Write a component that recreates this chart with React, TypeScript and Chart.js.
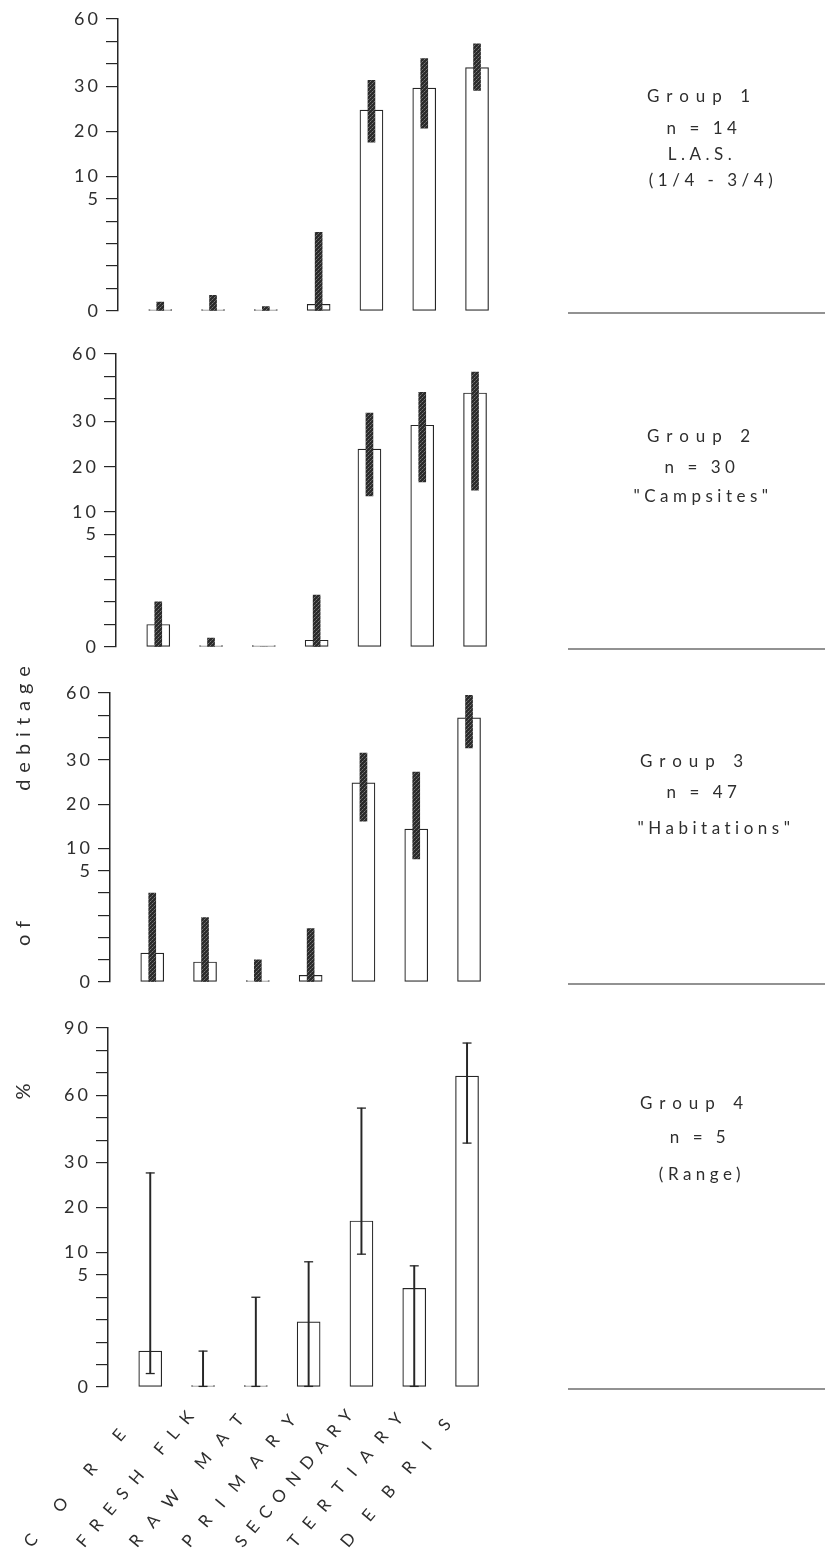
import React, { useEffect, useRef } from 'react';
import { Chart, registerables, LinearScale } from 'chart.js';

// ---------------- data ----------------
const CATEGORIES = ['CORE', 'FRESH FLK', 'RAW MAT', 'PRIMARY', 'SECONDARY', 'TERTIARY', 'DEBRIS'];

// Group 1 (mean % and interquartile range)
const G1_MEAN = [0, 0, 0, 0.3, 24.7, 29.6, 38.4];
const G1_LOW = [0, 0, 0, 0, 17.6, 20.7, 29.1];
const G1_HIGH = [0.4, 0.7, 0.2, 3.5, 32.7, 42.4, 49.0];
// Group 2
const G2_MEAN = [1.0, 0, 0, 0.3, 23.9, 29.2, 42.7];
const G2_LOW = [0, 0, 0, 0, 13.5, 16.6, 14.8];
const G2_HIGH = [2.0, 0.4, 0, 2.3, 33.8, 43.0, 52.0];
// Group 3
const G3_MEAN = [1.3, 0.9, 0, 0.3, 24.8, 14.4, 48.8];
const G3_LOW = [0, 0, 0, 0, 16.2, 7.7, 35.3];
const G3_HIGH = [4.0, 2.9, 1.0, 2.4, 33.0, 27.2, 59.0];
// Group 4 (mean % and range)
const G4_MEAN = [1.6, 0, 0, 2.9, 17.0, 4.4, 68.6];
const G4_LOW = [0.6, 0, 0, 0, 9.6, 0, 38.7];
const G4_HIGH = [27.7, 1.6, 4.0, 7.9, 54.3, 7.0, 83.3];

const Y_LABELS_60 = [0, 5, 10, 20, 30, 60];
const Y_MINOR_60 = [1, 2, 3, 4, 40, 50];
const Y_LABELS_90 = [0, 5, 10, 20, 30, 60, 90];
const Y_MINOR_90 = [1, 2, 3, 4, 40, 50, 70, 80];

const G1_NOTES = ['Group 1', 'n = 14', 'L.A.S.', '(1/4 - 3/4)'];
const G2_NOTES = ['Group 2', 'n = 30', '"Campsites"'];
const G3_NOTES = ['Group 3', 'n = 47', '"Habitations"'];
const G4_NOTES = ['Group 4', 'n = 5', '(Range)'];
const Y_TITLE = ['%', 'of', 'debitage'];

const PANELS = [
  { mean: G1_MEAN, low: G1_LOW, high: G1_HIGH, labels: Y_LABELS_60, minor: Y_MINOR_60, notes: G1_NOTES, thin: false },
  { mean: G2_MEAN, low: G2_LOW, high: G2_HIGH, labels: Y_LABELS_60, minor: Y_MINOR_60, notes: G2_NOTES, thin: false },
  { mean: G3_MEAN, low: G3_LOW, high: G3_HIGH, labels: Y_LABELS_60, minor: Y_MINOR_60, notes: G3_NOTES, thin: false },
  { mean: G4_MEAN, low: G4_LOW, high: G4_HIGH, labels: Y_LABELS_90, minor: Y_MINOR_90, notes: G4_NOTES, thin: true },
];

// ---------------- layout / style ----------------
const W = 825;
const H = 1555;
const Y_AXIS_W = 50;
const X_MIN = -0.8;
const X_MAX = 6.6;
const X_UNIT = 52.8;
const FONT = "Lato, 'Open Sans', 'DejaVu Sans', sans-serif";
const INK = '#262626';
const TEXT = '#2e2e2e';
const SEP_X0 = 568;
const LABEL_LEN = 182;
const CAP = 4.5;

const PANEL_BOX = [
  { axisX: 118, top: 19, bottom: 311, noteX: [702, 704, 702, 713], noteY: [97, 129, 155, 181] },
  { axisX: 116, top: 354, bottom: 647, noteX: [702, 702, 703], noteY: [437, 468, 497] },
  { axisX: 110, top: 693, bottom: 982, noteX: [695, 704, 716], noteY: [762, 793, 829] },
  { axisX: 108, top: 1028, bottom: 1387, noteX: [695, 700, 702], noteY: [1104, 1138, 1175] },
];
const TITLE_X = 24;
const TITLE_Y = [1088, 930, 725];

// piecewise-linear percentage axis used in the original figure
function toAxis(p: number) {
  if (p <= 5) return p;
  if (p <= 30) return 5 + (p - 5) / 5;
  return 10 + (p - 30) / 10;
}
function fromAxis(a: number) {
  if (a <= 5) return a;
  if (a <= 10) return 5 + (a - 5) * 5;
  return 30 + (a - 10) * 10;
}

class BrokenScale extends LinearScale {
  static id = 'broken';
  getPixelForValue(value: any) {
    if (value === null || value === undefined || isNaN(value)) return NaN;
    const a0 = toAxis((this as any).min);
    const a1 = toAxis((this as any).max);
    return (this as any).getPixelForDecimal((toAxis(value) - a0) / (a1 - a0));
  }
  getValueForPixel(pixel: number) {
    const a0 = toAxis((this as any).min);
    const a1 = toAxis((this as any).max);
    return fromAxis(a0 + (this as any).getDecimalForPixel(pixel) * (a1 - a0));
  }
  drawLabels(area: any) {
    const ctx: any = (this as any).ctx;
    ctx.save();
    ctx.letterSpacing = '3px';
    super.drawLabels(area);
    ctx.restore();
  }
}

class IndexScale extends LinearScale {
  static id = 'indexLinear';
  parse(raw: any, index: number) {
    return typeof raw === 'string' ? index : (super.parse as any)(raw, index);
  }
  drawLabels(area: any) {
    const self: any = this;
    if (!self.options.ticks.display) return;
    const ctx: any = self.ctx;
    const items = self.getLabelItems(area);
    for (const item of items) {
      const o = item.options;
      const label = String(item.label);
      ctx.save();
      ctx.translate(o.translation[0], o.translation[1]);
      ctx.rotate(o.rotation);
      ctx.font = item.font.string;
      ctx.fillStyle = o.color;
      ctx.textAlign = o.textAlign;
      ctx.textBaseline = o.textBaseline;
      ctx.letterSpacing = '0px';
      const natural = ctx.measureText(label).width;
      const spacing = Math.max(3, (LABEL_LEN - natural) / Math.max(1, label.length));
      ctx.letterSpacing = spacing.toFixed(2) + 'px';
      ctx.fillText(label, 0, item.textOffset);
      ctx.restore();
    }
  }
}

Chart.register(...registerables, BrokenScale as any, IndexScale as any);

function makeHatch(): any {
  const c = document.createElement('canvas');
  c.width = 4;
  c.height = 4;
  const g = c.getContext('2d')!;
  g.fillStyle = '#2b2b2b';
  g.fillRect(0, 0, 4, 4);
  g.fillStyle = '#7a7a7a';
  g.fillRect(0, 3, 1, 1);
  g.fillRect(2, 1, 1, 1);
  g.fillStyle = '#555';
  g.fillRect(1, 2, 1, 1);
  g.fillRect(3, 0, 1, 1);
  return g.createPattern(c, 'repeat');
}

function decorPlugin(i: number) {
  return {
    id: 'decor' + i,
    afterDatasetsDraw(chart: any) {
      const ctx = chart.ctx;
      chart.data.datasets.forEach((ds: any, di: number) => {
        if (!ds.caps) return;
        const meta = chart.getDatasetMeta(di);
        ctx.save();
        ctx.strokeStyle = INK;
        ctx.lineWidth = 1.3;
        meta.data.forEach((el: any) => {
          const { x, y, base } = el.getProps(['x', 'y', 'base'], true);
          if (Math.abs(base - y) < 1) return;
          [y, base].forEach((py: number) => {
            ctx.beginPath();
            ctx.moveTo(x - CAP, py);
            ctx.lineTo(x + CAP, py);
            ctx.stroke();
          });
        });
        ctx.restore();
      });
    },
    afterDraw(chart: any) {
      const ctx = chart.ctx;
      const B = PANEL_BOX[i];
      const notes = PANELS[i].notes;
      const yBase = chart.scales.y.getPixelForValue(0);
      ctx.save();
      ctx.strokeStyle = INK;
      ctx.lineWidth = 1.2;
      ctx.beginPath();
      ctx.moveTo(SEP_X0, yBase + 2);
      ctx.lineTo(W, yBase + 2);
      ctx.stroke();
      ctx.fillStyle = TEXT;
      ctx.font = `400 17px ${FONT}`;
      ctx.textAlign = 'center';
      ctx.textBaseline = 'middle';
      notes.forEach((t: string, k: number) => {
        ctx.letterSpacing = k === 0 ? '7px' : '4.5px';
        ctx.fillText(t, B.noteX[k], B.noteY[k]);
      });
      if (i === PANELS.length - 1) {
        ctx.font = `400 20px ${FONT}`;
        Y_TITLE.forEach((t, k) => {
          ctx.save();
          ctx.translate(TITLE_X, TITLE_Y[k]);
          ctx.rotate(-Math.PI / 2);
          ctx.letterSpacing = '7px';
          ctx.fillText(t, 0, 0);
          ctx.restore();
        });
      }
      ctx.restore();
    },
  };
}

function buildConfig(i: number, hatch: any): any {
  const P = PANELS[i];
  const B = PANEL_BOX[i];
  const isLast = i === PANELS.length - 1;
  const yMax = P.labels[P.labels.length - 1];
  const tickVals = [...P.labels, ...P.minor].sort((a, b) => a - b);
  const areaW = (X_MAX - X_MIN) * X_UNIT;
  return {
    type: 'bar',
    data: {
      labels: CATEGORIES,
      datasets: [
        {
          label: 'mean',
          data: P.mean,
          backgroundColor: '#ffffff',
          borderColor: INK,
          borderWidth: 1.2,
          borderSkipped: false,
          barThickness: 23,
          minBarLength: 1.5,
          order: 2,
        },
        {
          label: 'range',
          data: P.low.map((lo, k) => [lo, P.high[k]]),
          backgroundColor: P.thin ? INK : hatch,
          borderWidth: 0,
          barThickness: P.thin ? 1.3 : 7,
          order: 1,
          caps: P.thin,
        },
      ],
    },
    options: {
      responsive: false,
      animation: false,
      devicePixelRatio: 1,
      events: [],
      layout: {
        autoPadding: false,
        padding: { left: B.axisX - Y_AXIS_W, right: W - B.axisX - areaW, top: B.top, bottom: H - B.bottom },
      },
      datasets: { bar: { grouped: false } },
      plugins: { legend: { display: false }, tooltip: { enabled: false } },
      scales: {
        x: {
          type: 'indexLinear',
          min: X_MIN,
          max: X_MAX,
          bounds: 'data',
          offset: false,
          display: isLast,
          grid: { display: false, drawTicks: false, offset: false },
          border: { display: false },
          afterFit: (s: any) => { s.height = 0; },
          afterBuildTicks: (s: any) => { s.ticks = CATEGORIES.map((_, k) => ({ value: k })); },
          ticks: {
            autoSkip: false,
            minRotation: 50,
            maxRotation: 50,
            padding: 12,
            labelOffset: -6,
            color: TEXT,
            font: { family: FONT, size: 17, weight: '400' },
            callback: (v: any) => CATEGORIES[v] ?? '',
          },
        },
        y: {
          type: 'broken',
          min: 0,
          max: yMax,
          bounds: 'data',
          afterFit: (s: any) => { s.width = Y_AXIS_W; },
          afterBuildTicks: (s: any) => { s.ticks = tickVals.map((v) => ({ value: v })); },
          grid: { display: true, drawOnChartArea: false, drawTicks: true, tickLength: 12, color: INK, lineWidth: 1.2 },
          border: { display: true, color: INK, width: 1.5 },
          ticks: {
            autoSkip: false,
            padding: 5,
            color: TEXT,
            font: { family: FONT, size: 18, weight: '400' },
            callback: (v: any) => (P.labels.includes(v) ? String(v) : ''),
          },
        },
      },
    },
    plugins: [decorPlugin(i)],
  };
}

function PanelCanvas({ index }: { index: number }) {
  const ref = useRef<HTMLCanvasElement | null>(null);
  useEffect(() => {
    if (!ref.current) return;
    const chart = new Chart(ref.current, buildConfig(index, makeHatch()));
    return () => chart.destroy();
  }, [index]);
  return (
    <canvas
      ref={ref}
      width={W}
      height={H}
      style={{ position: 'absolute', left: 0, top: 0, width: W, height: H }}
    />
  );
}

export default function App() {
  return (
    <div style={{ position: 'absolute', left: 0, top: 0, width: W, height: H, background: '#fff', overflow: 'hidden' }}>
      {PANELS.map((_, i) => (
        <PanelCanvas key={i} index={i} />
      ))}
    </div>
  );
}
